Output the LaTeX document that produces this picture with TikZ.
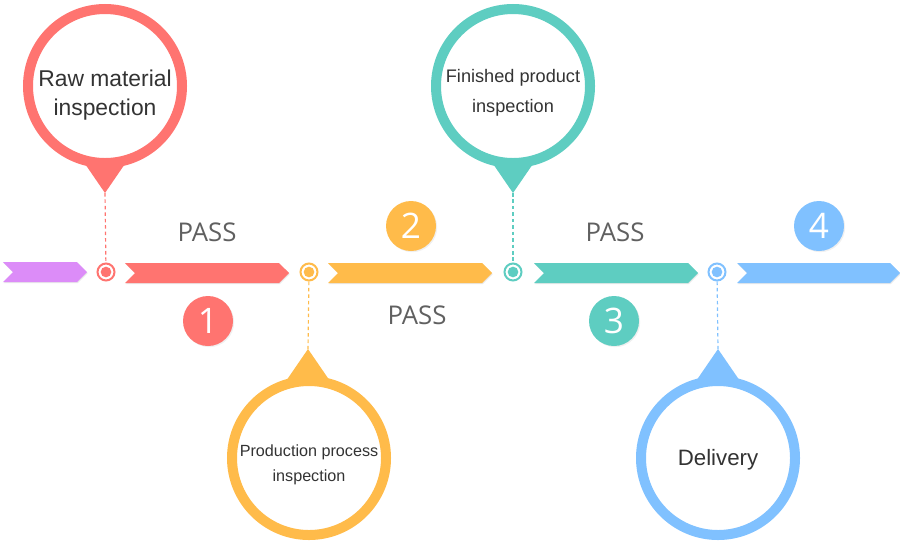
\documentclass[tikz,border=0pt]{standalone}
\usepackage{fontspec}
\setmainfont{Liberation Sans}
\newfontfamily\passfont{Open Sans}
\usetikzlibrary{shapes.symbols,shadows}
\definecolor{stepred}{HTML}{FF7470}
\definecolor{steporange}{HTML}{FFBB4A}
\definecolor{stepteal}{HTML}{5ECDC1}
\definecolor{stepblue}{HTML}{80C1FF}
\definecolor{steppurple}{HTML}{DC8CF8}
\definecolor{txt}{HTML}{333333}
\definecolor{passgray}{HTML}{606060}

\begin{document}
\begin{tikzpicture}[x=0.03cm,y=-0.03cm,
  chev/.style={signal,signal from=west,signal to=east,signal pointer angle=90,
    minimum height=0.6cm,inner sep=0pt,fill=#1,
    drop shadow={opacity=0.18,shadow xshift=0.6pt,shadow yshift=-1pt}},
  dot/.style={circle,draw=#1,line width=1.7pt,fill=white,minimum size=0.51cm,inner sep=0pt,
    path picture={\fill[#1] (path picture bounding box.center) circle (0.16cm);}},
  ring/.style={circle,draw=#1,line width=0.3cm,fill=white,minimum size=4.62cm,inner sep=0pt,
    drop shadow={opacity=0.12,shadow xshift=1pt,shadow yshift=-1pt}},
  btext/.style={align=center,text=txt,inner sep=0pt},
  num/.style={circle,fill=#1,minimum size=1.5cm,inner sep=0pt,text=white,
    font=\passfont\fontsize{30}{30}\selectfont,
    drop shadow={opacity=0.12,shadow xshift=1pt,shadow yshift=-1pt}},
  pass/.style={text=passgray,font=\passfont\fontsize{22}{22}\selectfont},
  link/.style={draw=#1,line width=1pt,dash pattern=on 3pt off 2.5pt},
  pin/.style={fill=#1}]
\useasboundingbox (0,0) rectangle (900,550);

% timeline
\node[chev=steppurple,minimum width=2.52cm] (c0) at (45,272) {};
\node[chev=stepred,minimum width=4.92cm] (c1) at (207,273) {};
\node[chev=steporange,minimum width=4.92cm] (c2) at (410,273) {};
\node[chev=stepteal,minimum width=4.92cm] (c3) at (616,273) {};
\node[chev=stepblue,minimum width=4.89cm] (c4) at (818.5,273) {};
\node[dot=stepred] (d1) at (106,272) {};
\node[dot=steporange] (d2) at (309,272) {};
\node[dot=stepteal] (d3) at (513,272) {};
\node[dot=stepblue] (d4) at (717,272) {};

% balloons
\coordinate (t1) at (105,193);
\coordinate (t2) at (308,349);
\coordinate (t3) at (513,193);
\coordinate (t4) at (718,349);
\fill[pin=stepred] (t1) -- (81,158) -- (129,158) -- cycle;
\fill[pin=steporange] (t2) -- (284,384) -- (332,384) -- cycle;
\fill[pin=stepteal] (t3) -- (489,158) -- (537,158) -- cycle;
\fill[pin=stepblue] (t4) -- (694,384) -- (742,384) -- cycle;
\node[ring=stepred] (b1) at (105,86) {};
\node[ring=steporange] (b2) at (309,458) {};
\node[ring=stepteal] (b3) at (513,86) {};
\node[ring=stepblue] (b4) at (718,458) {};
\node[btext,font=\fontsize{19.5}{25}\selectfont] (l1) at (105,95) {Raw material\\inspection};
\node[btext,font=\fontsize{13.8}{21.5}\selectfont] (l2) at (309,465) {Production process\\inspection};
\node[btext,font=\fontsize{15.5}{25.5}\selectfont] (l3) at (513,93) {Finished product\\inspection};
\node[btext,font=\fontsize{19}{20}\selectfont] (l4) at (718,460) {Delivery};
\draw[link=stepred] (t1) -- (d1);
\draw[link=steporange] (d2) -- (t2);
\draw[link=stepteal] (t3) -- (d3);
\draw[link=stepblue] (d4) -- (t4);

% numbers and labels
\node[num=stepred] (n1) at (208,321) {1};
\node[num=steporange] (n2) at (411,226) {2};
\node[num=stepteal] (n3) at (614,321) {3};
\node[num=stepblue] (n4) at (819,226) {4};
\node[pass] (p1) at (207,232) {PASS};
\node[pass] (p2) at (417,315) {PASS};
\node[pass] (p3) at (615,232) {PASS};
\end{tikzpicture}
\end{document}
